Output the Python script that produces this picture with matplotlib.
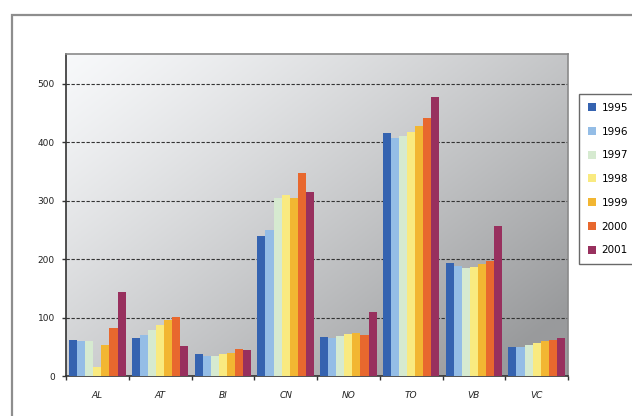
import matplotlib.pyplot as plt
import numpy as np
from matplotlib.patches import Rectangle

regions = ['AL', 'AT', 'BI', 'CN', 'NO', 'TO', 'VB', 'VC']
years = ['1995', '1996', '1997', '1998', '1999', '2000', '2001']
v1995 = [62, 65, 38, 240, 67, 416, 193, 50]
v1996 = [60, 70, 35, 250, 65, 408, 188, 50]
v1997 = [60, 78, 35, 305, 68, 410, 185, 53]
v1998 = [15, 88, 37, 310, 72, 418, 187, 57]
v1999 = [53, 95, 40, 305, 73, 428, 192, 60]
v2000 = [82, 101, 47, 347, 70, 442, 196, 62]
v2001 = [144, 51, 45, 315, 110, 478, 257, 65]
series = [v1995, v1996, v1997, v1998, v1999, v2000, v2001]
colors = ['#3563b0', '#94bde6', '#d6ead0', '#f9ea80', '#f2b632', '#e8682e', '#98305e']

fig = plt.figure(figsize=(6.32, 4.16), dpi=100)
fig.patch.set_facecolor('white')

# outer frame, cut off at right and bottom
fig.patches.append(Rectangle((12/632, -0.1), 1.0, 1.1 - 15/416, transform=fig.transFigure,
                             fill=False, edgecolor='#8e8e8e', lw=1.6))

ax = fig.add_axes([66/632, 40/416, 502/632, 322/416])

# grey gradient background, light top-left to darker bottom-right
gx, gy = np.meshgrid(np.linspace(0, 1, 200), np.linspace(0, 1, 200))
t = np.clip(0.6*gx + 0.5*gy, 0, 1)
shade = 0.97 - 0.37*t**1.2
bg = np.dstack([shade, shade + 0.005, shade + 0.012])
ax.imshow(np.clip(bg, 0, 1), extent=[0, 1, 0, 1], transform=ax.transAxes,
          aspect='auto', zorder=0, origin='upper')

x = np.arange(len(regions))
w = 0.9 / len(years)
for i, (vals, c) in enumerate(zip(series, colors)):
    ax.bar(x - 0.45 + w*(i + 0.5), vals, width=w, color=c, label=years[i], zorder=3)

ax.set_xlim(-0.5, len(regions) - 0.5)
ax.set_ylim(0, 551)
ax.set_yticks([0, 100, 200, 300, 400, 500])
ax.set_yticklabels(['0', '100', '200', '300', '400', '500'], fontsize=6.5, color='#222222')
ax.set_xticks(x)
ax.set_xticklabels(regions, fontsize=6.5, style='italic', color='#222222')
ax.set_xticks(np.arange(len(regions) + 1) - 0.5, minor=True)
ax.tick_params(axis='x', which='major', length=0, pad=11)
ax.tick_params(axis='x', which='minor', length=3, width=1, color='#333333')
ax.tick_params(axis='y', length=3, width=1, color='#333333', pad=5)
ax.grid(axis='y', linestyle=(0, (3, 1.5)), color='#333333', lw=0.8, zorder=1)
for s in ['top', 'right']:
    ax.spines[s].set_color('#8a8a8a')
    ax.spines[s].set_linewidth(1.2)
for s in ['left', 'bottom']:
    ax.spines[s].set_color('#333333')
    ax.spines[s].set_linewidth(1.2)

leg = fig.legend(loc='upper left', bbox_to_anchor=(579/632, 1 - 94/416), fontsize=7.5,
                 frameon=True, fancybox=False, edgecolor='#444444', handlelength=0.8,
                 handleheight=0.8, handletextpad=0.5, labelspacing=1.32, borderpad=0.85,
                 borderaxespad=0)
leg.get_frame().set_linewidth(1.0)

fig.savefig('out.png', dpi=100)
